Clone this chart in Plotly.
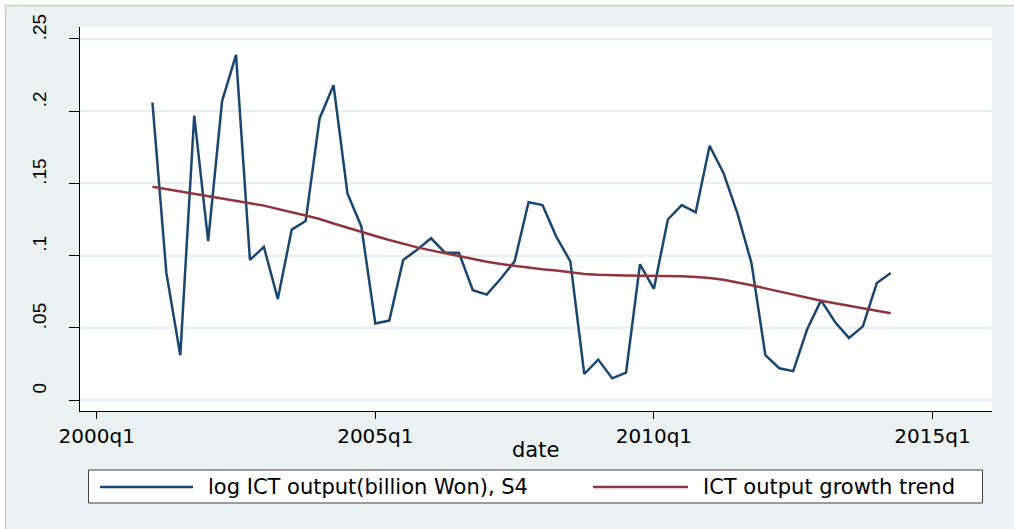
import pandas as pd
import plotly.graph_objects as go

# quarterly series, 2001q1 - 2014q2
quarters = pd.period_range("2001Q1", "2014Q2", freq="Q")

ict_output = [
    0.206, 0.088, 0.031, 0.197, 0.110, 0.207, 0.239, 0.097, 0.106, 0.070,
    0.118, 0.124, 0.195, 0.218, 0.143, 0.120, 0.053, 0.055, 0.097, 0.104,
    0.112, 0.102, 0.102, 0.076, 0.073, 0.084, 0.096, 0.137, 0.135, 0.113,
    0.096, 0.018, 0.028, 0.015, 0.019, 0.094, 0.077, 0.125, 0.135, 0.130,
    0.176, 0.157, 0.129, 0.095, 0.031, 0.022, 0.020, 0.049, 0.069, 0.054,
    0.043, 0.051, 0.081, 0.088,
]

ict_trend = [
    0.1477, 0.1460, 0.1443, 0.1426, 0.1408, 0.1393, 0.1377, 0.1362, 0.1346, 0.1325,
    0.1300, 0.1277, 0.1253, 0.1222, 0.1195, 0.1166, 0.1136, 0.1108, 0.1082, 0.1057,
    0.1036, 0.1016, 0.0996, 0.0976, 0.0958, 0.0942, 0.0928, 0.0916, 0.0905, 0.0896,
    0.0884, 0.0873, 0.0867, 0.0863, 0.0862, 0.0861, 0.0861, 0.0860, 0.0857, 0.0852,
    0.0845, 0.0832, 0.0815, 0.0795, 0.0773, 0.0751, 0.0729, 0.0708, 0.0688, 0.0670,
    0.0653, 0.0636, 0.0619, 0.0600,
]

x_tick_labels = ["2000q1", "2005q1", "2010q1", "2015q1"]
y_tick_values = [0, 0.05, 0.1, 0.15, 0.2, 0.25]
y_tick_labels = ["0", ".05", ".1", ".15", ".2", ".25"]

series_names = ["log ICT output(billion Won), S4", "ICT output growth trend"]

NAVY = "#1A476F"
MAROON = "#90353B"
BG = "#EAF2F3"
GRID = "#E6EFF1"

W, H = 1014, 529
L, R, T, B = 80, 22, 27, 118


def qindex(p):
    # quarters since 2000q1
    return (p.year - 2000) * 4 + p.quarter - 1


def px_x(px):
    return (px - L) / (W - L - R)


def px_y(py):
    return (H - B - py) / (H - T - B)


x = [qindex(p) for p in quarters]
x_ticks = [qindex(pd.Period(s.replace("q", "Q"), freq="Q")) for s in x_tick_labels]

fig = go.Figure()
fig.add_trace(go.Scatter(x=x, y=ict_output, mode="lines", name=series_names[0],
                         line=dict(color=NAVY, width=2.5), showlegend=False))
fig.add_trace(go.Scatter(x=x, y=ict_trend, mode="lines", name=series_names[1],
                         line=dict(color=MAROON, width=2.5), showlegend=False))

fig.update_xaxes(
    range=[-1.2, 64.27], tickvals=x_ticks, ticktext=x_tick_labels,
    ticks="outside", ticklen=7, tickcolor="black", tickwidth=1.2,
    showline=True, linecolor="black", linewidth=1.3,
    showgrid=False, zeroline=False,
    tickfont=dict(family="DejaVu Sans", size=20, color="black"),
)
fig.update_yaxes(
    range=[-0.00762, 0.2583], tickvals=y_tick_values, ticktext=y_tick_labels,
    tickangle=-90, ticks="outside", ticklen=10, tickcolor="black", tickwidth=1.2,
    showline=True, linecolor="black", linewidth=1.3,
    showgrid=True, gridcolor=GRID, gridwidth=2, zeroline=False,
    ticklabelshift=-9, ticklabelstandoff=15,
    tickfont=dict(family="Liberation Sans", size=19, color="black"),
)

shapes = [
    # white frame edge + green border line of the picture
    dict(type="rect", xref="paper", yref="paper", x0=px_x(0), x1=px_x(W),
         y0=px_y(0), y1=px_y(5), fillcolor="white", line_width=0),
    dict(type="rect", xref="paper", yref="paper", x0=px_x(0), x1=px_x(5),
         y0=px_y(0), y1=px_y(H), fillcolor="white", line_width=0),
    dict(type="line", xref="paper", yref="paper", x0=px_x(5.5), x1=px_x(W),
         y0=px_y(5.5), y1=px_y(5.5), line=dict(color="#B2DCA8", width=1.5)),
    dict(type="line", xref="paper", yref="paper", x0=px_x(5.5), x1=px_x(5.5),
         y0=px_y(5.5), y1=px_y(H), line=dict(color="#B2DCA8", width=1.5)),
    # legend box
    dict(type="rect", xref="paper", yref="paper", x0=px_x(88.5), x1=px_x(982.5),
         y0=px_y(470), y1=px_y(503), fillcolor="white",
         line=dict(color="#404040", width=1)),
    dict(type="line", xref="paper", yref="paper", x0=px_x(100), x1=px_x(193),
         y0=px_y(487), y1=px_y(487), line=dict(color=NAVY, width=2.5)),
    dict(type="line", xref="paper", yref="paper", x0=px_x(593), x1=px_x(688),
         y0=px_y(487), y1=px_y(487), line=dict(color=MAROON, width=2.5)),
]

legend_font = dict(family="DejaVu Sans", size=21, color="black")
annotations = [
    dict(text=series_names[0], xref="paper", yref="paper", x=px_x(206), y=px_y(487),
         xanchor="left", yanchor="middle", showarrow=False, font=legend_font),
    dict(text=series_names[1], xref="paper", yref="paper", x=px_x(701), y=px_y(487),
         xanchor="left", yanchor="middle", showarrow=False, font=legend_font),
    dict(text="date", xref="paper", yref="paper", x=px_x(535), y=px_y(450),
         xanchor="center", yanchor="middle", showarrow=False, font=legend_font),
]

fig.update_layout(
    width=W, height=H,
    margin=dict(l=L, r=R, t=T, b=B),
    paper_bgcolor=BG, plot_bgcolor="white",
    showlegend=False,
    shapes=shapes, annotations=annotations,
)

# drop the page's default body margin so the figure sits at the window corner
fig.write_html("out.html", config={"displayModeBar": False},
               post_script="document.body.style.margin='0';")
